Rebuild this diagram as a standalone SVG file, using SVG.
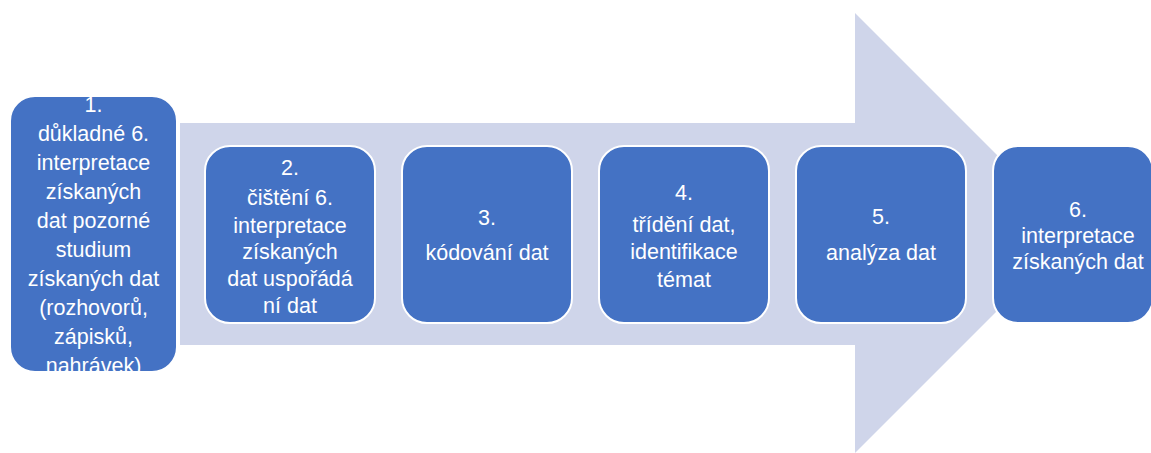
<svg xmlns="http://www.w3.org/2000/svg" width="1151" height="453" viewBox="0 0 1151 453">
<style>
.node{fill:#4472C4;stroke:#FFFFFF;stroke-width:2}
.lbl{font-family:"Liberation Sans",Arial,sans-serif;font-size:21.5px;fill:#FFFFFF;text-anchor:middle}
</style>
<defs>
<clipPath id="c1"><rect x="10" y="96" width="167" height="276" rx="25"/></clipPath>
</defs>
<g id="connectors">
<polygon points="180,123 855,123 855,13 1075,233 855,453 855,345 180,345" fill="#CFD5EA"/>
</g>
<g id="node1">
<rect class="node" x="10" y="96" width="167" height="276" rx="25"/>
<g clip-path="url(#c1)">
<text class="lbl" x="93.5" y="112">1.</text>
<text class="lbl" x="93.5" y="141">důkladné 6.</text>
<text class="lbl" x="93.5" y="170">interpretace</text>
<text class="lbl" x="93.5" y="199">získaných</text>
<text class="lbl" x="93.5" y="228">dat pozorné</text>
<text class="lbl" x="93.5" y="257">studium</text>
<text class="lbl" x="93.5" y="286">získaných dat</text>
<text class="lbl" x="93.5" y="315">(rozhovorů,</text>
<text class="lbl" x="93.5" y="344">zápisků,</text>
<text class="lbl" x="93.5" y="373">nahrávek)</text>
</g>
</g>
<g id="node2">
<rect class="node" x="205" y="146" width="170" height="177" rx="25"/>
<text class="lbl" x="290" y="175">2.</text>
<text class="lbl" x="290" y="205">čištění 6.</text>
<text class="lbl" x="290" y="233">interpretace</text>
<text class="lbl" x="290" y="259">získaných</text>
<text class="lbl" x="290" y="286">dat uspořádá</text>
<text class="lbl" x="290" y="313">ní dat</text>
</g>
<g id="node3">
<rect class="node" x="402" y="146" width="170" height="177" rx="25"/>
<text class="lbl" x="487" y="225">3.</text>
<text class="lbl" x="487" y="260">kódování dat</text>
</g>
<g id="node4">
<rect class="node" x="599" y="146" width="170" height="177" rx="25"/>
<text class="lbl" x="684" y="200">4.</text>
<text class="lbl" x="684" y="232">třídění dat,</text>
<text class="lbl" x="684" y="259">identifikace</text>
<text class="lbl" x="684" y="287">témat</text>
</g>
<g id="node5">
<rect class="node" x="796" y="146" width="170" height="177" rx="25"/>
<text class="lbl" x="881" y="224">5.</text>
<text class="lbl" x="881" y="260">analýza dat</text>
</g>
<g id="node6">
<rect class="node" x="993" y="146" width="160" height="177" rx="25"/>
<text class="lbl" x="1078" y="217">6.</text>
<text class="lbl" x="1078" y="243">interpretace</text>
<text class="lbl" x="1078" y="269">získaných dat</text>
</g>
</svg>
